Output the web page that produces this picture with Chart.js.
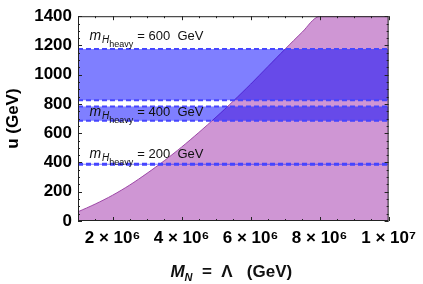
<!DOCTYPE html>
<html><head><meta charset="utf-8">
<script src="https://cdn.jsdelivr.net/npm/chart.js@4/dist/chart.umd.min.js"></script>
<style>html,body{margin:0;padding:0;background:#fff}#wrap{width:423px;height:284px}</style>
</head><body><div id="wrap"><canvas id="c" width="423" height="284"></canvas></div>
<script>
// ---- data ----
const curveM = [1.0e6, 1.5e6, 2.0e6, 2.5e6, 3.0e6, 3.5e6, 4.0e6, 4.5e6, 5.0e6, 5.5e6, 6.0e6, 6.5e6, 7.0e6, 7.5e6, 8.0e6, 1.0e7];
const curveU = [63, 116, 176, 246, 326, 412, 505, 605, 710, 820, 935, 1055, 1175, 1292, 1400, 1400];
const bandMass = [600, 400, 200];
const bandLow  = [826, 685, 385];
const bandHigh = [1176, 783, 391];
const xRange = [1e6, 1e7];
const yRange = [0, 1400];
const xTicks = [2e6, 4e6, 6e6, 8e6, 1e7];
const yTicks = [0, 200, 400, 600, 800, 1000, 1200, 1400];

const FONT = '"Liberation Sans", Arial, sans-serif';
const SUP = {'0':'⁰','1':'¹','2':'²','3':'³','4':'⁴','5':'⁵','6':'⁶','7':'⁷','8':'⁸','9':'⁹'};
function sci(v){
  const e = Math.floor(Math.log10(v) + 1e-9);
  const m = Math.round(v / Math.pow(10, e));
  return m + ' \u00d7 10' + String(e).split('').map(c => SUP[c]).join('');
}

const BLUE_FILL = 'rgba(0,0,255,0.5)';
const BLUE_LINE = 'rgba(70,70,255,1)';
const datasets = [];
bandMass.forEach((m, i) => {
  datasets.push({label: 'low' + m, data: xRange.map(x => ({x, y: bandLow[i]})),
    borderColor: BLUE_LINE, borderWidth: 2, borderDash: [5, 3], pointRadius: 0, fill: false});
  datasets.push({label: 'high' + m, data: xRange.map(x => ({x, y: bandHigh[i]})),
    borderColor: BLUE_LINE, borderWidth: 2, borderDash: [5, 3], pointRadius: 0,
    fill: '-1', backgroundColor: BLUE_FILL});
});
datasets.push({label: 'curve', data: curveM.map((x, i) => ({x, y: curveU[i]})),
  borderColor: 'rgba(150,60,160,0.9)', borderWidth: 1, pointRadius: 0, tension: 0.3,
  fill: 'start', backgroundColor: 'rgba(160,45,170,0.5)'});

const decor = {
  id: 'decor',
  afterDatasetsDraw(chart) {
    const {ctx, chartArea: a, scales: {x, y}} = chart;
    ctx.save();
    ctx.strokeStyle = '#222'; ctx.lineWidth = 1;
    const line = (x1, y1, x2, y2) => { ctx.beginPath(); ctx.moveTo(x1, y1); ctx.lineTo(x2, y2); ctx.stroke(); };
    for (let v = xRange[0]; v <= xRange[1]; v += 5e5) {
      const px = Math.round(x.getPixelForValue(v)) + 0.5;
      const L = xTicks.includes(v) ? 4 : 2;
      line(px, a.bottom, px, a.bottom - L); line(px, a.top, px, a.top + L);
    }
    for (let v = yRange[0]; v <= yRange[1]; v += 50) {
      const py = Math.round(y.getPixelForValue(v)) + 0.5;
      const L = yTicks.includes(v) ? 4 : 2;
      line(a.left, py, a.left + L, py); line(a.right, py, a.right - L, py);
    }
    ctx.strokeRect(a.left + 0.5, a.top + 0.5, a.right - a.left - 1, a.bottom - a.top - 1);

    // band labels
    const labelU = [1238, 720, 433];
    ctx.fillStyle = '#111'; ctx.textBaseline = 'alphabetic'; ctx.textAlign = 'left';
    bandMass.forEach((m, i) => {
      let px = x.getPixelForValue(1.33e6);
      const py = y.getPixelForValue(labelU[i]);
      ctx.font = 'italic 14px ' + FONT; ctx.fillText('m', px, py);
      px += ctx.measureText('m').width + 1;
      ctx.font = 'italic 10px ' + FONT; ctx.fillText('H', px, py + 3);
      px += ctx.measureText('H').width;
      ctx.font = '9px ' + FONT; ctx.fillText('heavy', px, py + 7);
      px += ctx.measureText('heavy').width + 4;
      ctx.font = '13px ' + FONT; ctx.fillText('= ' + m + '  GeV', px, py);
    });

    // x-axis title
    const parts = [
      {t: 'M', f: 'italic bold 17px ' + FONT, dy: 0},
      {t: 'N', f: 'italic bold 11px ' + FONT, dy: 4},
      {t: '  =  \u039b   (GeV)', f: 'bold 17px ' + FONT, dy: 0}
    ];
    let w = 0;
    parts.forEach(p => { ctx.font = p.f; p.w = ctx.measureText(p.t).width; w += p.w; });
    let sx = (a.left + a.right) / 2 - w / 2 - 2;
    const by = 277;
    parts.forEach(p => { ctx.font = p.f; ctx.fillText(p.t, sx, by + p.dy); sx += p.w; });
    ctx.restore();
  }
};

new Chart(document.getElementById('c'), {
  type: 'line',
  data: {datasets},
  options: {
    responsive: false, animation: false, devicePixelRatio: 1,
    layout: {padding: {top: 13, right: 32, left: 0, bottom: 0}},
    plugins: {legend: {display: false}, tooltip: {enabled: false}},
    scales: {
      x: {type: 'linear', min: xRange[0], max: xRange[1],
        afterBuildTicks: s => { s.ticks = xTicks.map(v => ({value: v})); },
        afterFit: s => { s.height = 63; },
        grid: {display: false, drawTicks: false}, border: {display: false},
        ticks: {callback: v => sci(v), color: '#000', padding: 7, maxRotation: 0,
          font: {family: FONT, size: 17, weight: 'bold'}}},
      y: {type: 'linear', min: yRange[0], max: yRange[1],
        afterBuildTicks: s => { s.ticks = yTicks.map(v => ({value: v})); },
        afterFit: s => { s.width = 78; },
        grid: {display: false, drawTicks: false}, border: {display: false},
        title: {display: true, text: 'u (GeV)', color: '#000', padding: {top: 3, bottom: 0},
          font: {family: FONT, size: 17, weight: 'bold'}},
        ticks: {callback: v => String(v), color: '#000', padding: 6,
          font: {family: FONT, size: 17, weight: 'bold'}}}
    }
  },
  plugins: [decor]
});
</script></body></html>
